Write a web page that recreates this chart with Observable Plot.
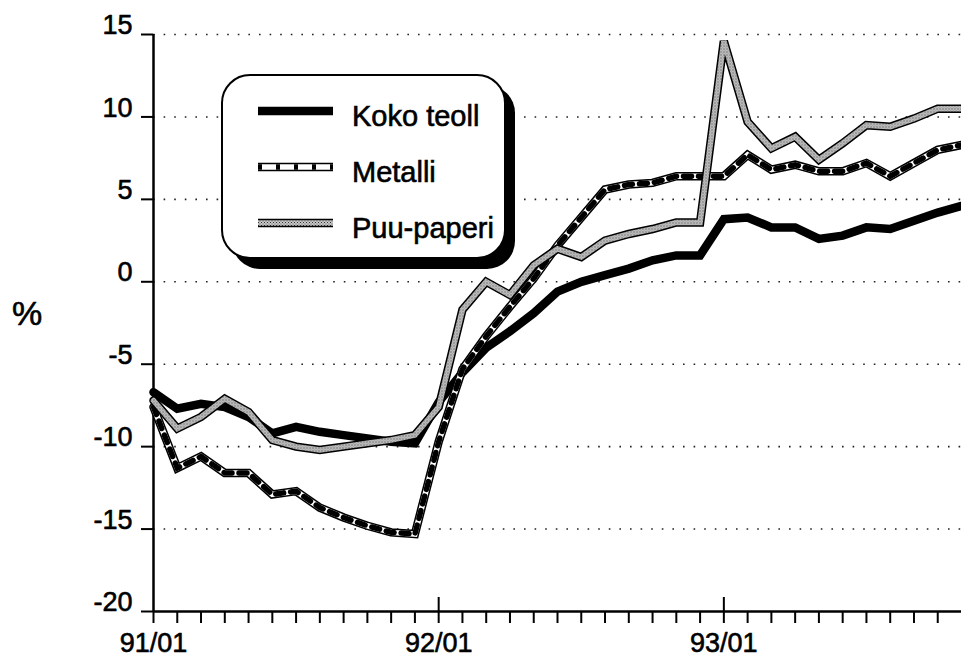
<!DOCTYPE html>
<html>
<head>
<meta charset="utf-8">
<script src="https://cdn.jsdelivr.net/npm/d3@7"></script>
<script src="https://cdn.jsdelivr.net/npm/@observablehq/plot@0.6"></script>
<style>
  body { margin: 0; background: #fff; }
  #chart { width: 961px; height: 657px; overflow: hidden; }
</style>
</head>
<body>
<div id="chart"></div>
<script>
// ---- data ----
const months = [
  "91/01","91/02","91/03","91/04","91/05","91/06","91/07","91/08","91/09","91/10","91/11","91/12",
  "92/01","92/02","92/03","92/04","92/05","92/06","92/07","92/08","92/09","92/10","92/11","92/12",
  "93/01","93/02","93/03","93/04","93/05","93/06","93/07","93/08","93/09","93/10","93/11"
];
const kokoTeoll = [-6.7,-7.7,-7.4,-7.6,-8.2,-9.2,-8.8,-9.1,-9.3,-9.5,-9.7,-9.8,
  -7.3,-5.5,-4.0,-3.0,-1.9,-0.6,0.0,0.4,0.8,1.3,1.6,1.6,
  3.8,3.9,3.3,3.3,2.6,2.8,3.3,3.2,3.7,4.2,4.6];
const metalli = [-7.6,-11.3,-10.6,-11.6,-11.6,-12.9,-12.7,-13.7,-14.3,-14.8,-15.2,-15.3,
  -9.7,-5.3,-3.3,-1.5,0.2,2.2,3.9,5.6,5.9,6.0,6.4,6.4,
  6.4,7.7,6.8,7.1,6.7,6.7,7.2,6.4,7.2,8.0,8.3];
const puuPaperi = [-7.2,-8.9,-8.2,-7.1,-7.9,-9.6,-10.0,-10.2,-10.0,-9.8,-9.6,-9.3,
  -7.6,-1.7,0.0,-0.8,1.0,2.0,1.5,2.5,2.9,3.2,3.6,3.6,
  14.6,9.7,8.1,8.8,7.4,8.4,9.5,9.4,9.9,10.5,10.5];
const seriesNames = ["Koko teoll", "Metalli", "Puu-paperi"];
const yTicks = [-20, -15, -10, -5, 0, 5, 10, 15];
const gridValues = [-15, -10, -5, 0, 5, 10, 15];
const yearLabels = ["91/01", "92/01", "93/01"];
const yAxisLabel = "%";

// ---- layout ----
const W = 961, H = 657, mL = 153, mR = 0, mT = 34, mB = 46;
const font = "'Liberation Sans', Arial, Helvetica, sans-serif";

const idx = months.map((_, i) => i);
const tickIdx = idx.slice(0, months.length - 1);
const yearIdx = yearLabels.map(l => months.indexOf(l));
const rows = (vals) => months.map((m, i) => ({i, v: vals[i]}));
const koko = rows(kokoTeoll), met = rows(metalli), puu = rows(puuPaperi);
const L = {x: "i", y: "v", strokeLinejoin: "miter", strokeMiterlimit: 3};
const T = {fontSize: 27, stroke: "#000", strokeWidth: 0.6, fill: "#000"};

const plot = Plot.plot({
  width: W, height: H,
  marginLeft: mL, marginRight: mR, marginTop: mT, marginBottom: mB,
  style: {fontFamily: font, fontSize: "27px", color: "#000", background: "#fff", overflow: "visible"},
  x: {domain: [0, months.length - 1]},
  y: {domain: [-20, 15]},
  marks: [
    Plot.ruleY(gridValues, {stroke: "#222", strokeWidth: 1.6, strokeDasharray: "1.6 9"}),
    Plot.axisY({ticks: yTicks, tickSize: 12, tickFormat: () => "", strokeWidth: 2, label: null}),
    Plot.axisX({ticks: tickIdx, tickSize: 12, tickFormat: () => "", strokeWidth: 2, label: null}),
    Plot.ruleX(yearIdx.slice(1), {strokeWidth: 2, insetTop: (H - mT - mB) - 14}),
    Plot.ruleY([-20], {strokeWidth: 2.5}),
    Plot.ruleX([0], {strokeWidth: 2.5}),
    Plot.text(yTicks, {...T, y: d => d, text: d => String(d), frameAnchor: "left", textAnchor: "end", dx: -21, dy: -9}),
    Plot.text(yearIdx, {...T, x: d => d, text: d => months[d], frameAnchor: "bottom", lineAnchor: "top", dy: 21}),
    // Koko teoll
    Plot.line(koko, {...L, stroke: "#000", strokeWidth: 8.5}),
    // Metalli (hatched ribbon)
    Plot.line(met, {...L, stroke: "#000", strokeWidth: 8.5}),
    Plot.line(met, {...L, stroke: "#fff", strokeWidth: 5.5}),
    Plot.line(met, {...L, stroke: "#000", strokeWidth: 5.5, strokeDasharray: "8 7"}),
    // Puu-paperi (stippled ribbon)
    Plot.line(puu, {...L, stroke: "#000", strokeWidth: 8.5}),
    Plot.line(puu, {...L, stroke: "url(#stipple)", strokeWidth: 5.5})
  ]
});

const svg = d3.select(plot);
const defs = svg.insert("defs", ":first-child");
const pat = defs.append("pattern").attr("id", "stipple")
  .attr("width", 3).attr("height", 3).attr("patternUnits", "userSpaceOnUse");
pat.append("rect").attr("width", 3).attr("height", 3).attr("fill", "#c8c8c8");
pat.append("rect").attr("x", 0).attr("y", 0).attr("width", 1).attr("height", 1).attr("fill", "#333");
pat.append("rect").attr("x", 1.5).attr("y", 1.5).attr("width", 1).attr("height", 1).attr("fill", "#555");

// "%" label
svg.append("text").attr("x", 27).attr("y", 325).attr("text-anchor", "middle")
  .attr("font-family", font).attr("font-size", 34).attr("stroke", "#000").attr("stroke-width", 0.6)
  .text(yAxisLabel);

// Legend
const lg = svg.append("g");
lg.append("rect").attr("x", 232).attr("y", 85).attr("width", 283).attr("height", 184)
  .attr("rx", 28).attr("fill", "#000");
lg.append("rect").attr("x", 222).attr("y", 75).attr("width", 283).attr("height", 183)
  .attr("rx", 28).attr("fill", "#fff").attr("stroke", "#000").attr("stroke-width", 2);
const rowY = [111, 167, 223];
const sx1 = 258, sx2 = 333;
const seg = (y, stroke, w, dash) => {
  const l = lg.append("line").attr("x1", sx1).attr("x2", sx2).attr("y1", y).attr("y2", y)
    .attr("stroke", stroke).attr("stroke-width", w);
  if (dash) l.attr("stroke-dasharray", dash);
};
seg(rowY[0], "#000", 8.5);
seg(rowY[1], "#000", 8.5); seg(rowY[1], "#fff", 5.5); seg(rowY[1], "#000", 5.5, "4 14");
seg(rowY[2], "#000", 8.5); seg(rowY[2], "url(#stipple)", 5.5);
seriesNames.forEach((name, i) => {
  lg.append("text").attr("x", 352).attr("y", rowY[i] + 14.5).attr("text-anchor", "start")
    .attr("font-family", font).attr("font-size", 29).attr("fill", "#000")
    .attr("stroke", "#000").attr("stroke-width", 0.6).text(name);
});

document.getElementById("chart").appendChild(plot);
</script>
</body>
</html>
